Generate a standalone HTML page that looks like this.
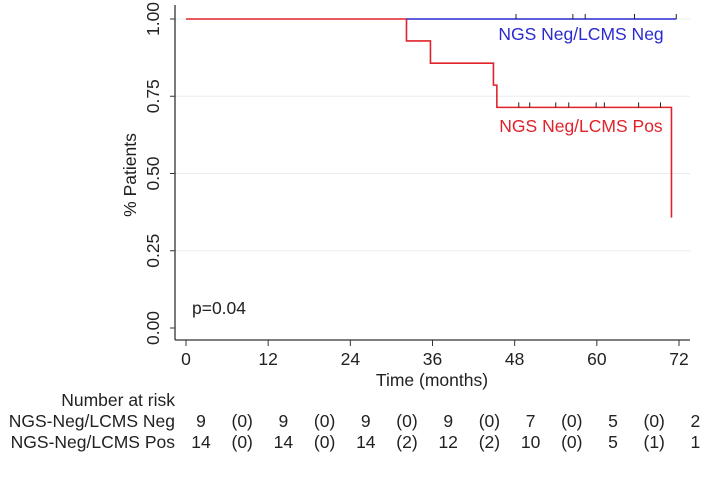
<!DOCTYPE html>
<html><head><meta charset="utf-8"><style>
body{margin:0;background:#fff;}
svg text{font-family:"Liberation Sans",sans-serif;}
</style></head><body>
<svg width="721" height="472" viewBox="0 0 721 472" xmlns="http://www.w3.org/2000/svg">
<g id="grid"></g><g id="axes"></g><g id="series"></g><g id="labels"></g><g id="risk"></g>
</svg>
<script>
const xTicks=[0,12,24,36,48,60,72];
const yTicks=[0,0.25,0.5,0.75,1.0];
const negTimes=[0,71.6];
const negSurv=[1,1];
const negCensor=[48.2,56.5,58.3,65.5,71.6];
const posTimes=[0,32.2,35.7,44.9,45.4,70.9];
const posSurv=[1,0.929,0.857,0.786,0.714,0.357];
const posCensor=[48.6,50.2,54,55.9,59.9,61.1,66.1,69.3];
const riskNeg=["9","(0)","9","(0)","9","(0)","9","(0)","7","(0)","5","(0)","2"];
const riskPos=["14","(0)","14","(0)","14","(2)","12","(2)","10","(0)","5","(1)","1"];
const NS="http://www.w3.org/2000/svg";
const FS=17.5;
const X=t=>186+t*(679-186)/72;
const Y=s=>328-s*309;
function mk(tag,attrs,parent,txt){const e=document.createElementNS(NS,tag);for(const k in attrs)e.setAttribute(k,attrs[k]);if(txt!=null)e.textContent=txt;document.getElementById(parent).appendChild(e);return e;}
yTicks.forEach(v=>{if(v>0){const g=mk('line',{x1:175,x2:690,y1:Y(v),y2:Y(v),stroke:'#e8eef0','stroke-width':1},'grid');

}
const t=mk('line',{x1:170,x2:175,y1:Y(v),y2:Y(v),stroke:'#333'},'axes');


const l=mk('text',{x:0,y:0,'font-size':FS,'text-anchor':'middle',fill:'#222',transform:`translate(159,${Y(v)}) rotate(-90)`},'axes',v.toFixed(2));

});
xTicks.forEach(v=>{const t=mk('line',{x1:X(v),x2:X(v),y1:340,y2:346,stroke:'#333'},'axes');


const l=mk('text',{x:X(v),y:365,'font-size':FS,'text-anchor':'middle',fill:'#222'},'axes',String(v));

});
const ya=mk('line',{x1:175,x2:175,y1:5,y2:340,stroke:'#333','stroke-width':1.3},'axes');


const xa=mk('line',{x1:175,x2:690,y1:340,y2:340,stroke:'#333','stroke-width':1.3},'axes');


function step(times,surv){let d=`M${X(times[0])},${Y(surv[0])}`;for(let i=1;i<times.length;i++){d+=` H${X(times[i])} V${Y(surv[i])}`;}return d;}
const pp=mk('path',{d:step(posTimes,posSurv),fill:'none',stroke:'#e0232b','stroke-width':1.6},'series');


const nd=`M${X(posTimes[1])},${Y(negSurv[0])} H${X(negTimes[negTimes.length-1])}`;
const np=mk('path',{d:nd,fill:'none',stroke:'#2a2ad0','stroke-width':1.6},'series');


function survAt(times,surv,t){let s=surv[0];for(let i=0;i<times.length;i++)if(times[i]<=t)s=surv[i];return s;}
negCensor.forEach(t=>{const c=mk('line',{x1:X(t),x2:X(t),y1:Y(survAt(negTimes,negSurv,t))-5,y2:Y(survAt(negTimes,negSurv,t)),stroke:'#222'},'series');

});
posCensor.forEach(t=>{const c=mk('line',{x1:X(t),x2:X(t),y1:Y(survAt(posTimes,posSurv,t))-5,y2:Y(survAt(posTimes,posSurv,t)),stroke:'#222'},'series');

});
let e;
e=mk('text',{x:581,y:40,'font-size':FS,'text-anchor':'middle',fill:'#2a2ad0'},'labels','NGS Neg/LCMS Neg');


e=mk('text',{x:581,y:132,'font-size':FS,'text-anchor':'middle',fill:'#e0232b'},'labels','NGS Neg/LCMS Pos');


e=mk('text',{x:192,y:314,'font-size':FS,fill:'#222'},'labels','p=0.04');


e=mk('text',{x:0,y:0,'font-size':FS,'text-anchor':'middle',fill:'#222',transform:'translate(136,175) rotate(-90)'},'labels','% Patients');


e=mk('text',{x:432,y:386,'font-size':FS,'text-anchor':'middle',fill:'#222'},'labels','Time (months)');


e=mk('text',{x:175,y:406,'font-size':FS,'text-anchor':'end',fill:'#222'},'risk','Number at risk');


e=mk('text',{x:175,y:427,'font-size':FS,'text-anchor':'end',fill:'#222'},'risk','NGS-Neg/LCMS Neg');


e=mk('text',{x:175,y:448,'font-size':FS,'text-anchor':'end',fill:'#222'},'risk','NGS-Neg/LCMS Pos');


riskNeg.forEach((v,i)=>{const t=mk('text',{x:201+i*41.2,y:427,'font-size':FS,'text-anchor':'middle',fill:'#222'},'risk',v);

});
riskPos.forEach((v,i)=>{const t=mk('text',{x:201+i*41.2,y:448,'font-size':FS,'text-anchor':'middle',fill:'#222'},'risk',v);

});
</script>
</body></html>
